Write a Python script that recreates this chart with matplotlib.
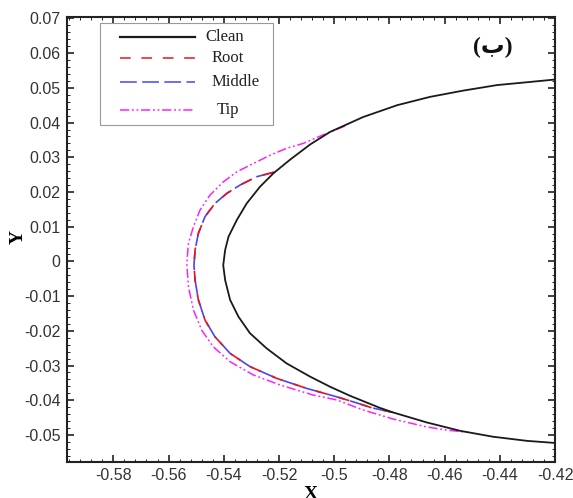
import matplotlib
matplotlib.use("Agg")
import matplotlib.pyplot as plt
from matplotlib.lines import Line2D
from matplotlib.patches import Rectangle
from matplotlib.ticker import MultipleLocator, FuncFormatter

# ---------------- data ----------------
clean_x = [-0.4200, -0.4291, -0.4410, -0.4533, -0.4653, -0.4772, -0.4895, -0.5015,
           -0.5087, -0.5160, -0.5220, -0.5269, -0.5317, -0.5353, -0.5383, -0.5395,
           -0.5402, -0.5395, -0.5377, -0.5347, -0.5305, -0.5244, -0.5172, -0.5087,
           -0.5015, -0.4943, -0.4834, -0.4787, -0.4664, -0.4544, -0.4425, -0.4301,
           -0.4200]
clean_y = [0.0524, 0.0517, 0.0508, 0.0492, 0.0474, 0.0450, 0.0416, 0.0373,
           0.0337, 0.0293, 0.0254, 0.0215, 0.0167, 0.0119, 0.0071, 0.0033,
           -0.0011, -0.0054, -0.0111, -0.0159, -0.0207, -0.0251, -0.0294, -0.0332,
           -0.0361, -0.0387, -0.0422, -0.0435, -0.0464, -0.0488, -0.0505, -0.0517,
           -0.0523]

root_x = [-0.5218, -0.5281, -0.5341, -0.5389, -0.5432, -0.5468, -0.5492, -0.5504,
          -0.5508, -0.5504, -0.5492, -0.5468, -0.5432, -0.5377, -0.5305, -0.5208,
          -0.5099, -0.4991, -0.4917, -0.4863, -0.4787]
root_y = [0.0257, 0.0244, 0.0220, 0.0196, 0.0167, 0.0129, 0.0081, 0.0033,
          -0.0011, -0.0054, -0.0111, -0.0169, -0.0217, -0.0265, -0.0303, -0.0337,
          -0.0366, -0.0390, -0.0408, -0.0422, -0.0435]

middle_x = [-0.5218, -0.5281, -0.5341, -0.5389, -0.5432, -0.5468, -0.5492, -0.5504,
            -0.5508, -0.5504, -0.5492, -0.5468, -0.5432, -0.5377, -0.5305, -0.5208,
            -0.5099, -0.4991, -0.4917, -0.4863, -0.4787]
middle_y = [0.0257, 0.0244, 0.0220, 0.0196, 0.0167, 0.0129, 0.0081, 0.0033,
            -0.0011, -0.0054, -0.0111, -0.0169, -0.0217, -0.0265, -0.0303, -0.0337,
            -0.0366, -0.0390, -0.0408, -0.0422, -0.0435]

tip_x = [-0.4961, -0.5033, -0.5112, -0.5172, -0.5232, -0.5293, -0.5353, -0.5402,
         -0.5450, -0.5486, -0.5510, -0.5528, -0.5534, -0.5528, -0.5510, -0.5480,
         -0.5438, -0.5377, -0.5293, -0.5196, -0.5076, -0.4991, -0.4895, -0.4787,
         -0.4664, -0.4591, -0.4508]
tip_y = [0.0390, 0.0367, 0.0340, 0.0326, 0.0306, 0.0282, 0.0258, 0.0229,
         0.0191, 0.0148, 0.0100, 0.0052, -0.0006, -0.0073, -0.0140, -0.0198,
         -0.0246, -0.0289, -0.0327, -0.0356, -0.0385, -0.0399, -0.0428, -0.0454,
         -0.0477, -0.0486, -0.0493]

series_labels = ["Clean", "Root", "Middle", "Tip"]
x_ticks = [-0.58, -0.56, -0.54, -0.52, -0.50, -0.48, -0.46, -0.44, -0.42]
y_ticks = [-0.05, -0.04, -0.03, -0.02, -0.01, 0.0, 0.01, 0.02, 0.03, 0.04, 0.05, 0.06, 0.07]
panel_label = "(ب)"

# ---------------- styles ----------------
c_clean, c_root, c_mid, c_tip = "#1a1a1a", "#e8141c", "#4646f5", "#ff1fff"
ls_root = (0, (7, 7))
ls_mid = (0, (11, 3.5))
ls_tip = (0, (6, 1.8, 1.2, 1.8, 1.2, 1.8))

fig = plt.figure(figsize=(5.73, 4.98), dpi=100)
ax = fig.add_axes([67 / 573, (498 - 461.7) / 498, (555 - 67) / 573, (461.7 - 16.7) / 498])

ax.plot(tip_x, tip_y, color=c_tip, lw=1.1, ls=ls_tip, solid_joinstyle="round")
ax.plot(middle_x, middle_y, color=c_mid, lw=1.2, ls=ls_mid)
ax.plot(root_x, root_y, color=c_root, lw=1.2, ls=ls_root)
ax.plot(clean_x, clean_y, color=c_clean, lw=1.3, ls="-", solid_joinstyle="round")

ax.set_xlim(-0.5968, -0.42)
ax.set_ylim(-0.0577, 0.0705)
ax.set_xticks(x_ticks)
ax.set_yticks(y_ticks)
ax.xaxis.set_minor_locator(MultipleLocator(0.004))
ax.yaxis.set_minor_locator(MultipleLocator(0.002))


def fmt(v, pos):
    s = ("%.2f" % v).rstrip("0").rstrip(".")
    if s in ("-0", "0"):
        return "0"
    return s


ax.xaxis.set_major_formatter(FuncFormatter(fmt))
ax.yaxis.set_major_formatter(FuncFormatter(fmt))

for sp in ax.spines.values():
    sp.set_linewidth(1.5)
    sp.set_color("#222222")

ax.tick_params(which="both", direction="in", top=True, right=True, color="#222222")
ax.tick_params(which="major", length=5, width=1.2, pad=4.5, labelsize=11.5,
               labelcolor="#333333")
ax.tick_params(which="minor", length=2.5, width=0.7)
for lab in ax.get_xticklabels() + ax.get_yticklabels():
    lab.set_family("Liberation Sans")

ax.set_xlabel("X", family="Liberation Serif", fontweight="bold", fontsize=14)
ax.xaxis.set_label_coords(0.5, -0.055)
ax.set_ylabel("Y", family="Liberation Serif", fontweight="bold", fontsize=14)
ax.yaxis.set_label_coords(-0.082, 0.505)

# ---------------- manual legend ----------------
ax.add_patch(Rectangle((0.0676, 0.7566), 0.4221 - 0.0676, 0.9858 - 0.7566,
                       transform=ax.transAxes, fill=True, facecolor="white",
                       edgecolor="#999999", lw=0.8, zorder=5))
rows_y = [0.9544, 0.9072, 0.8533, 0.7903]
text_x = [0.2828, 0.2971, 0.2971, 0.3074]
colors = [c_clean, c_root, c_mid, c_tip]
styles = ["-", ls_root, ls_mid, ls_tip]
widths = [1.6, 1.1, 1.1, 1.1]
for lab, yy, tx, col, st, w in zip(series_labels, rows_y, text_x, colors, styles, widths):
    ax.add_line(Line2D([0.1086, 0.2623], [yy, yy], transform=ax.transAxes,
                       color=col, ls=st, lw=w, zorder=6))
    ax.text(tx, yy, lab, transform=ax.transAxes, family="Liberation Serif",
            fontsize=12, ha="left", va="center", color="#222222", zorder=6)

ax.text(0.872, 0.93, panel_label, transform=ax.transAxes,
        family=["Liberation Serif", "DejaVu Sans"],
        fontweight="bold", fontsize=17, ha="center", va="center", color="#111111")

fig.savefig("out.png", dpi=100)
